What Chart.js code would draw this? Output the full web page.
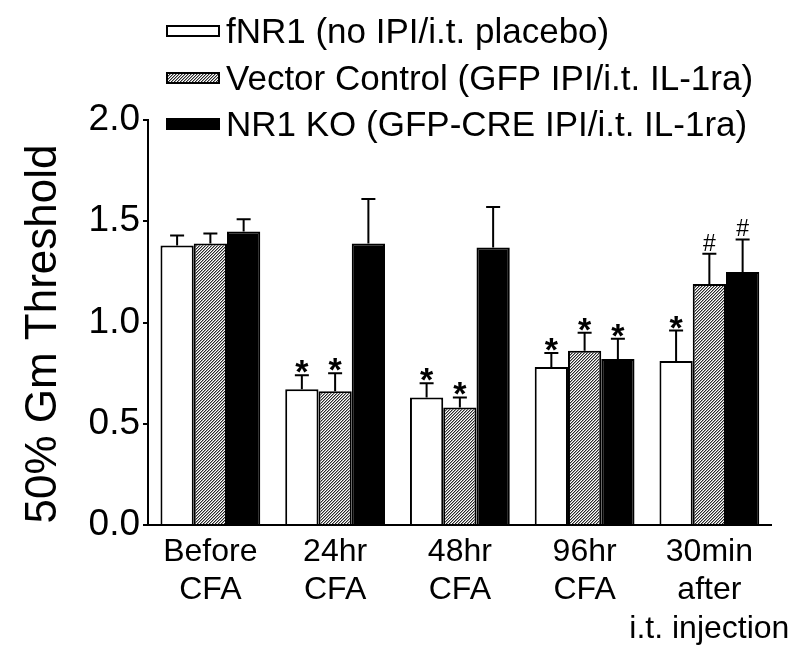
<!DOCTYPE html>
<html>
<head>
<meta charset="utf-8">
<script src="https://cdn.jsdelivr.net/npm/chart.js@4.4.0/dist/chart.umd.min.js"></script>
<style>
  html, body { margin: 0; padding: 0; background: #fff; }
  #wrap { width: 800px; height: 657px; position: relative; }
</style>
</head>
<body>
<div id="wrap"><canvas id="c"></canvas></div>
<script>
// ---- data ----
const categories = [["Before", "CFA"], ["24hr", "CFA"], ["48hr", "CFA"], ["96hr", "CFA"], ["30min", "after", "i.t. injection"]];
const seriesLabels = ["fNR1 (no IPI/i.t. placebo)", "Vector Control (GFP IPI/i.t. IL-1ra)", "NR1 KO (GFP-CRE IPI/i.t. IL-1ra)"];
const fnr1 = [1.38, 0.67, 0.63, 0.78, 0.81];
const fnr1Err = [0.05, 0.07, 0.07, 0.07, 0.15];
const vector = [1.39, 0.66, 0.58, 0.86, 1.19];
const vectorErr = [0.05, 0.09, 0.05, 0.09, 0.15];
const ko = [1.45, 1.39, 1.37, 0.82, 1.25];
const koErr = [0.06, 0.22, 0.20, 0.10, 0.16];
const fnr1Marks = ["", "*", "*", "*", "*"];
const vectorMarks = ["", "*", "*", "*", "#"];
const koMarks = ["", "", "", "*", "#"];
const yTicks = [0, 0.5, 1.0, 1.5, 2.0];
const yTitle = "50% Gm Threshold";

// ---- hatch pattern ----
function makeHatch() {
  const s = 3;
  const pc = document.createElement('canvas');
  pc.width = s; pc.height = s;
  const g = pc.getContext('2d');
  for (let x = 0; x < s; x++) {
    for (let y = 0; y < s; y++) {
      const k = (x + y) % s;
      g.fillStyle = k === 0 ? '#2a2a2a' : (k === 1 ? '#a0a0a0' : '#ffffff');
      g.fillRect(x, y, 1, 1);
    }
  }
  return g.createPattern(pc, 'repeat');
}
const hatch = makeHatch();

const FONT = "'Liberation Sans', Arial, sans-serif";

const errorBarPlugin = {
  id: 'errorBars',
  afterDatasetsDraw(chart) {
    const ctx = chart.ctx;
    const y = chart.scales.y;
    ctx.save();
    chart.data.datasets.forEach((ds, di) => {
      const meta = chart.getDatasetMeta(di);
      meta.data.forEach((bar, i) => {
        const v = ds.data[i];
        const top = y.getPixelForValue(v + ds.errors[i]);
        const base = y.getPixelForValue(v);
        ctx.strokeStyle = '#000';
        ctx.lineWidth = 2;
        ctx.beginPath();
        ctx.moveTo(bar.x, base);
        ctx.lineTo(bar.x, top);
        ctx.moveTo(bar.x - 7, top);
        ctx.lineTo(bar.x + 7, top);
        ctx.stroke();
        const m = ds.marks[i];
        if (!m) return;
        ctx.fillStyle = '#000';
        ctx.textAlign = 'center';
        ctx.textBaseline = 'alphabetic';
        let gap;
        if (m === '*') { ctx.font = 'bold 34px ' + FONT; gap = 2; }
        else { ctx.font = '23px ' + FONT; gap = 3; }
        const mt = ctx.measureText(m);
        const baseline = (top - gap) - mt.actualBoundingBoxDescent;
        ctx.fillText(m, bar.x, baseline);
      });
    });
    ctx.restore();
  }
};

const legendPlugin = {
  id: 'customLegend',
  afterDraw(chart) {
    const ctx = chart.ctx;
    ctx.save();
    const rows = [31, 78, 124];
    chart.data.datasets.forEach((ds, i) => {
      const cy = rows[i];
      ctx.fillStyle = ds.backgroundColor;
      ctx.fillRect(167, cy - 5, 52, 10);
      ctx.strokeStyle = '#000';
      ctx.lineWidth = 2;
      ctx.strokeRect(167, cy - 5, 52, 10);
      ctx.fillStyle = '#000';
      ctx.font = '35px ' + FONT;
      ctx.textAlign = 'left';
      ctx.textBaseline = 'middle';
      ctx.fillText(ds.label, 226, cy + 2);
    });
    // y axis title
    ctx.translate(56, 334);
    ctx.rotate(-Math.PI / 2);
    ctx.font = '44px ' + FONT;
    ctx.textAlign = 'center';
    ctx.textBaseline = 'alphabetic';
    ctx.fillText(yTitle, 0, 0);
    ctx.restore();
  }
};

new Chart(document.getElementById('c'), {
  type: 'bar',
  data: {
    labels: categories,
    datasets: [
      { label: seriesLabels[0], data: fnr1, errors: fnr1Err, marks: fnr1Marks, backgroundColor: '#ffffff', borderColor: '#000', borderWidth: 2 },
      { label: seriesLabels[1], data: vector, errors: vectorErr, marks: vectorMarks, backgroundColor: hatch, borderColor: '#000', borderWidth: 2 },
      { label: seriesLabels[2], data: ko, errors: koErr, marks: koMarks, backgroundColor: '#000000', borderColor: '#000', borderWidth: 2 }
    ]
  },
  options: {
    responsive: true,
    maintainAspectRatio: false,
    animation: false,
    devicePixelRatio: 1,
    categoryPercentage: 0.8,
    barPercentage: 1.0,
    layout: { padding: { top: 120, right: 26, bottom: 0, left: 0 } },
    plugins: { legend: { display: false }, tooltip: { enabled: false } },
    scales: {
      x: {
        grid: { display: true, drawOnChartArea: false, drawTicks: false },
        border: { display: true, color: '#000', width: 2 },
        ticks: { color: '#000', font: { family: FONT, size: 32, lineHeight: 1.2 }, padding: 8, maxRotation: 0, autoSkip: false },
        afterFit(scale) { scale.height = 132; }
      },
      y: {
        min: 0, max: 2,
        afterBuildTicks(scale) { scale.ticks = yTicks.map(v => ({ value: v })); },
        grid: { display: true, drawOnChartArea: false, drawTicks: true, tickLength: 5, color: '#000', lineWidth: 2 },
        border: { display: true, color: '#000', width: 2 },
        ticks: { color: '#000', font: { family: FONT, size: 37 }, padding: 3, callback: v => Number(v).toFixed(1) },
        title: { display: false },
        afterFit(scale) { scale.width = 148; }
      }
    }
  },
  plugins: [errorBarPlugin, legendPlugin]
});
</script>
</body>
</html>
